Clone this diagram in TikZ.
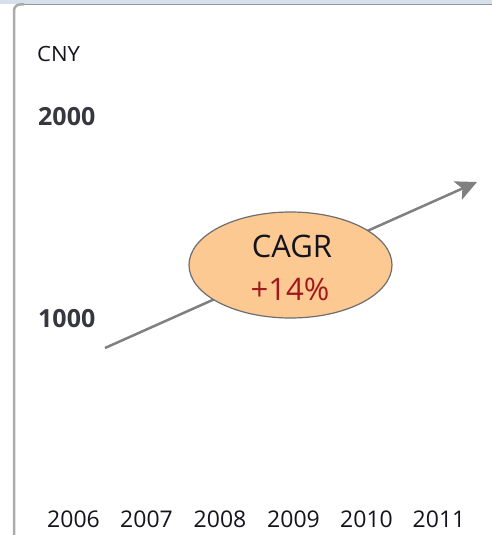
\documentclass[tikz,border=0pt]{standalone}
\usepackage{fontspec}
\setmainfont{Open Sans}
\usetikzlibrary{shapes.geometric,arrows.meta}
\definecolor{bandblue}{RGB}{214,224,234}
\definecolor{frame}{RGB}{150,150,150}
\definecolor{arrowgray}{RGB}{128,128,128}
\definecolor{peach}{RGB}{252,201,146}
\definecolor{ellborder}{RGB}{110,110,110}
\definecolor{darkred}{RGB}{160,25,30}
\definecolor{ink}{RGB}{20,20,30}
\tikzset{
  axislbl/.style={anchor=base west, inner sep=0pt, text=ink!85, font=\bfseries\fontsize{25}{25}\selectfont},
  yearlbl/.style={anchor=base, inner sep=0pt, text=ink, font=\fontsize{23}{23}\selectfont},
  bubble/.style={ellipse, draw=ellborder, line width=1.2pt, fill=peach, minimum width=203pt, minimum height=106pt, inner sep=0pt},
  trend/.style={draw=arrowgray, line width=2.5pt, -{Stealth[length=21pt,width=20pt,inset=5pt]}}
}
\begin{document}
\begin{tikzpicture}[x=1pt,y=-1pt]
\useasboundingbox (0,0) rectangle (492,535);
\fill[white] (0,0) rectangle (492,535);
% window frame
\fill[bandblue] (0,0) rectangle (492,4);
\draw[frame, line width=1pt] (20,4.5) -- (492,4.5);
\draw[frame!80, line width=2.5pt, rounded corners=6pt] (14,535) -- (14,4.5) -- (24,4.5);
% labels
\node[anchor=base west, inner sep=0pt, text=ink, font=\fontsize{21}{21}\selectfont, xscale=1.05] (cny) at (37,62) {CNY};
\node[axislbl] (y2000) at (38,125) {2000};
\node[axislbl] (y1000) at (38,327) {1000};
% trend arrow
\coordinate (s) at (105,348);
\coordinate (e) at (477,182);
\draw[trend] (s) -- (e);
% bubble
\node[bubble] (cagr) at (290.5,265) {};
\node[anchor=base, inner sep=0pt, text=ink, font=\fontsize{31}{31}\selectfont] (cagrt) at (292,257) {CAGR};
\node[anchor=base, inner sep=0pt, text=darkred, font=\fontsize{31}{31}\selectfont] (pct) at (290,300) {+14\%};
% years
\node[yearlbl] (t6) at (73.5,527) {2006};
\node[yearlbl] (t7) at (146.5,527) {2007};
\node[yearlbl] (t8) at (220,527) {2008};
\node[yearlbl] (t9) at (293.5,527) {2009};
\node[yearlbl] (t10) at (366.5,527) {2010};
\node[yearlbl] (t11) at (439,527) {2011};
\end{tikzpicture}
\end{document}
